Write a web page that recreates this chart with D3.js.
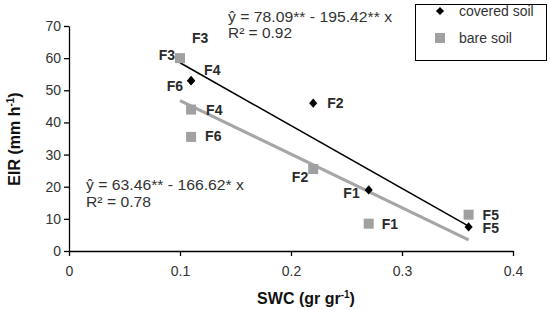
<!DOCTYPE html>
<html>
<head>
<meta charset="utf-8">
<script src="https://cdn.jsdelivr.net/npm/d3@7"></script>
<style>
body { margin: 0; background: #fff; }
text { font-family: "Liberation Sans", Arial, sans-serif; }
</style>
</head>
<body>
<svg id="chart"></svg>
<script>
var w = 550, h = 310;
var margin = {top: 26, right: 37, bottom: 59, left: 69};

// data
var plots = ["F1", "F2", "F3", "F4", "F5", "F6"];
var coveredSWC = [0.27, 0.22, 0.10, 0.11, 0.36, 0.11];
var coveredEIR = [19, 46, 60, 53, 7.5, 53];
var bareSWC = [0.27, 0.22, 0.10, 0.11, 0.36, 0.11];
var bareEIR = [8.5, 25.5, 60, 44, 11.3, 35.5];
var xTicks = [0, 0.1, 0.2, 0.3, 0.4];
var yTicks = [0, 10, 20, 30, 40, 50, 60, 70];
var coveredFit = {a: 78.09, b: -195.42, from: 0.1, to: 0.36};
var bareFit = {a: 63.46, b: -166.62, from: 0.1, to: 0.36};

// label placement (anchor, dx, dy) for each plot
var coveredLab = [["end", -9, 8], ["start", 14, 5], ["start", 12, -15], ["start", 13, -6], ["start", 14, 6], ["end", -8, 10]];
var bareLab = [["start", 13, 5], ["end", -5, 13], ["end", -5, 2], ["start", 15, 5], ["start", 14, 5], ["start", 14, 4]];

var svg = d3.select("#chart").attr("width", w).attr("height", h);

var x = d3.scaleLinear().domain([0, 0.4]).range([margin.left, w - margin.right]);
var y = d3.scaleLinear().domain([0, 70]).range([h - margin.bottom, margin.top]);

var xAxis = svg.append("g")
	.attr("transform", "translate(0," + y(0) + ")")
	.call(d3.axisBottom(x).tickValues(xTicks).tickSize(5).tickSizeOuter(0)
		.tickFormat(function(d){ return d === 0 ? "0" : d3.format(".1f")(d); }));
var yAxis = svg.append("g")
	.attr("transform", "translate(" + x(0) + ",0)")
	.call(d3.axisLeft(y).tickValues(yTicks).tickSize(5).tickSizeOuter(0));

[xAxis, yAxis].forEach(function(g){
	g.select(".domain").attr("stroke", "#000").attr("stroke-width", 1.3);
	g.selectAll(".tick line").attr("stroke", "#000").attr("stroke-width", 1.3);
	g.selectAll(".tick text").attr("font-size", 14).attr("fill", "#333")
		.attr("font-family", "Liberation Sans, Arial, sans-serif");
});
xAxis.selectAll(".tick text").attr("dy", "1.2em");
yAxis.selectAll(".tick text").attr("x", -8);

// regression lines
function fitLine(f) {
	return [[f.from, f.a + f.b * f.from], [f.to, f.a + f.b * f.to]];
}
var line = d3.line().x(function(d){ return x(d[0]); }).y(function(d){ return y(d[1]); });

svg.append("path").attr("d", line(fitLine(bareFit)))
	.attr("stroke", "#a6a6a6").attr("stroke-width", 3.2).attr("fill", "none");
svg.append("path").attr("d", line(fitLine(coveredFit)))
	.attr("stroke", "#000").attr("stroke-width", 1.6).attr("fill", "none");

// covered soil points
var diamond = d3.symbol().type(d3.symbolDiamond2).size(42);
svg.append("g").selectAll("path")
	.data(plots).enter().append("path")
	.attr("d", diamond)
	.attr("transform", function(d, i){ return "translate(" + x(coveredSWC[i]) + "," + y(coveredEIR[i]) + ") scale(1,1.15)"; })
	.attr("fill", "#000");

// bare soil points
svg.append("g").selectAll("rect")
	.data(plots).enter().append("rect")
	.attr("x", function(d, i){ return x(bareSWC[i]) - 5; })
	.attr("y", function(d, i){ return y(bareEIR[i]) - 5; })
	.attr("width", 10).attr("height", 10)
	.attr("fill", "#a0a0a0");

// point labels
function labels(sx, sy, lab) {
	svg.append("g").selectAll("text")
		.data(plots).enter().append("text")
		.attr("x", function(d, i){ return x(sx[i]) + lab[i][1]; })
		.attr("y", function(d, i){ return y(sy[i]) + lab[i][2]; })
		.attr("text-anchor", function(d, i){ return lab[i][0]; })
		.attr("font-size", 14).attr("font-weight", "bold").attr("fill", "#2a2a2a")
		.text(function(d){ return d; });
}
labels(coveredSWC, coveredEIR, coveredLab);
labels(bareSWC, bareEIR, bareLab);

// equations
var eq = svg.append("g").attr("font-size", 14).attr("fill", "#333");
eq.append("text").attr("x", 228).attr("y", 22).attr("textLength", 164).attr("lengthAdjust", "spacingAndGlyphs").text("ŷ = 78.09** - 195.42** x");
eq.append("text").attr("x", 228).attr("y", 38).attr("textLength", 64).attr("lengthAdjust", "spacingAndGlyphs").text("R² = 0.92");
eq.append("text").attr("x", 86).attr("y", 190).attr("textLength", 158).attr("lengthAdjust", "spacingAndGlyphs").text("ŷ = 63.46** - 166.62* x");
eq.append("text").attr("x", 86).attr("y", 207).attr("textLength", 65).attr("lengthAdjust", "spacingAndGlyphs").text("R² = 0.78");

// legend
var legend = svg.append("g");
legend.append("rect").attr("x", 415.5).attr("y", 4.5).attr("width", 131).attr("height", 56)
	.attr("fill", "#fff").attr("stroke", "#000").attr("stroke-width", 1);
legend.append("path").attr("d", diamond).attr("transform", "translate(440,11)").attr("fill", "#000");
legend.append("rect").attr("x", 435).attr("y", 33).attr("width", 10).attr("height", 10).attr("fill", "#a0a0a0");
legend.append("text").attr("x", 459).attr("y", 16).attr("font-size", 14).attr("fill", "#333").text("covered soil");
legend.append("text").attr("x", 459).attr("y", 43).attr("font-size", 14).attr("fill", "#333").text("bare soil");

// axis titles
var xt = svg.append("text").attr("x", 306).attr("y", 304).attr("text-anchor", "middle")
	.attr("font-size", 16).attr("font-weight", "bold").attr("fill", "#111");
xt.append("tspan").text("SWC (gr gr");
xt.append("tspan").attr("dy", -6).attr("font-size", 10).text("-1");
xt.append("tspan").attr("dy", 6).text(")");

var yt = svg.append("text").attr("transform", "translate(20,139) rotate(-90)").attr("text-anchor", "middle")
	.attr("font-size", 16).attr("font-weight", "bold").attr("fill", "#111");
yt.append("tspan").text("EIR (mm h");
yt.append("tspan").attr("dy", -6).attr("font-size", 10).text("-1");
yt.append("tspan").attr("dy", 6).text(")");
</script>
</body>
</html>
